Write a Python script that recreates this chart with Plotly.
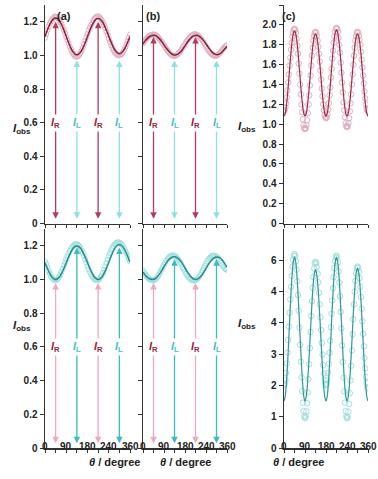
import plotly.graph_objects as go

# ---------------- data ----------------
theta_fit10 = list(range(0, 361, 10))
theta_obs5 = list(range(0, 361, 5))
theta_fit5 = list(range(0, 361, 5))
theta_obs3 = list(range(0, 361, 3))

# panel (a) top - red
a_top_fit = [1.113, 1.151, 1.184, 1.208, 1.221, 1.221, 1.208, 1.184, 1.151, 1.113,
             1.075, 1.042, 1.018, 1.005, 1.005, 1.018, 1.042, 1.075, 1.113,
             1.150, 1.182, 1.206, 1.219, 1.219, 1.206, 1.183, 1.150, 1.114,
             1.078, 1.047, 1.025, 1.012, 1.012, 1.025, 1.047, 1.078, 1.112]
a_top_obs = [1.105, 1.128, 1.150, 1.172, 1.190, 1.203, 1.215, 1.222, 1.230, 1.232,
             1.228, 1.222, 1.210, 1.198, 1.185, 1.168, 1.150, 1.132, 1.110, 1.090,
             1.072, 1.052, 1.035, 1.020, 1.008, 0.998, 0.993, 0.992, 0.996, 1.003,
             1.015, 1.030, 1.047, 1.068, 1.088, 1.108, 1.128, 1.148, 1.165, 1.182,
             1.196, 1.210, 1.220, 1.228, 1.232, 1.233, 1.228, 1.220, 1.210, 1.196,
             1.180, 1.162, 1.142, 1.122, 1.100, 1.080, 1.062, 1.045, 1.030, 1.018,
             1.010, 1.004, 1.001, 1.000, 1.003, 1.009, 1.018, 1.032, 1.048, 1.066,
             1.086, 1.106, 1.125]

# panel (a) bottom - teal
a_bot_fit = [1.100, 1.066, 1.036, 1.013, 1.002, 1.002, 1.013, 1.036, 1.066, 1.100,
             1.134, 1.164, 1.187, 1.198, 1.198, 1.187, 1.164, 1.134, 1.100,
             1.066, 1.036, 1.013, 1.002, 1.002, 1.013, 1.036, 1.066, 1.102,
             1.138, 1.170, 1.194, 1.206, 1.206, 1.194, 1.170, 1.138, 1.102]
a_bot_obs = [1.108, 1.092, 1.072, 1.052, 1.035, 1.020, 1.010, 1.002, 0.997, 0.996,
             0.999, 1.006, 1.016, 1.030, 1.046, 1.064, 1.083, 1.102, 1.120, 1.138,
             1.155, 1.170, 1.183, 1.194, 1.202, 1.208, 1.210, 1.210, 1.206, 1.198,
             1.188, 1.174, 1.158, 1.140, 1.120, 1.100, 1.080, 1.062, 1.045, 1.030,
             1.018, 1.008, 1.001, 0.997, 0.996, 0.998, 1.003, 1.012, 1.024, 1.040,
             1.058, 1.078, 1.098, 1.118, 1.138, 1.156, 1.173, 1.188, 1.200, 1.210,
             1.216, 1.220, 1.221, 1.220, 1.216, 1.208, 1.198, 1.185, 1.170, 1.155,
             1.140, 1.124, 1.108]

# panel (b) top - red
b_top_fit = [1.068, 1.088, 1.103, 1.114, 1.119, 1.120, 1.113, 1.100, 1.083, 1.063,
             1.043, 1.026, 1.012, 1.004, 1.003, 1.008, 1.020, 1.037, 1.057,
             1.078, 1.096, 1.110, 1.118, 1.120, 1.115, 1.104, 1.088, 1.068,
             1.048, 1.030, 1.015, 1.006, 1.004, 1.010, 1.022, 1.038, 1.055]
b_top_obs = [1.072, 1.082, 1.092, 1.100, 1.108, 1.114, 1.118, 1.122, 1.124, 1.125,
             1.124, 1.120, 1.115, 1.108, 1.100, 1.090, 1.080, 1.070, 1.060, 1.049,
             1.038, 1.028, 1.019, 1.011, 1.005, 1.000, 0.997, 0.996, 0.998, 1.002,
             1.008, 1.016, 1.025, 1.036, 1.047, 1.058, 1.069, 1.080, 1.090, 1.100,
             1.108, 1.115, 1.120, 1.124, 1.126, 1.126, 1.124, 1.120, 1.114, 1.106,
             1.097, 1.087, 1.076, 1.064, 1.052, 1.040, 1.030, 1.021, 1.013, 1.006,
             1.001, 0.998, 0.997, 0.998, 1.002, 1.008, 1.016, 1.025, 1.034, 1.042,
             1.050, 1.056, 1.060]

# panel (b) bottom - teal
b_bot_fit = [1.045, 1.025, 1.011, 1.003, 1.000, 1.003, 1.014, 1.032, 1.054, 1.077,
             1.099, 1.117, 1.129, 1.135, 1.134, 1.126, 1.111, 1.091, 1.068,
             1.045, 1.025, 1.010, 1.002, 1.001, 1.008, 1.022, 1.042, 1.065,
             1.088, 1.108, 1.123, 1.132, 1.134, 1.128, 1.115, 1.096, 1.073]
b_bot_obs = [1.052, 1.040, 1.030, 1.020, 1.012, 1.005, 1.000, 0.997, 0.995, 0.995,
             0.998, 1.003, 1.011, 1.021, 1.033, 1.046, 1.060, 1.074, 1.088, 1.101,
             1.113, 1.123, 1.131, 1.137, 1.141, 1.143, 1.143, 1.141, 1.137, 1.131,
             1.122, 1.112, 1.100, 1.088, 1.074, 1.060, 1.047, 1.035, 1.024, 1.014,
             1.006, 1.000, 0.996, 0.994, 0.994, 0.996, 1.000, 1.007, 1.016, 1.027,
             1.039, 1.053, 1.067, 1.081, 1.095, 1.108, 1.119, 1.128, 1.135, 1.140,
             1.142, 1.142, 1.140, 1.136, 1.130, 1.121, 1.110, 1.098, 1.086, 1.075,
             1.066, 1.060, 1.058]

# panel (c) top - red
c_top_fit = [1.080, 1.106, 1.181, 1.295, 1.435, 1.585, 1.725, 1.839, 1.914, 1.940,
             1.914, 1.839, 1.725, 1.585, 1.435, 1.295, 1.181, 1.106, 1.080,
             1.105, 1.177, 1.288, 1.423, 1.567, 1.703, 1.813, 1.885, 1.910,
             1.885, 1.813, 1.703, 1.567, 1.423, 1.288, 1.177, 1.105, 1.080,
             1.106, 1.182, 1.297, 1.439, 1.591, 1.733, 1.848, 1.924, 1.950,
             1.924, 1.848, 1.733, 1.591, 1.439, 1.297, 1.182, 1.106, 1.080,
             1.105, 1.177, 1.288, 1.423, 1.567, 1.703, 1.813, 1.885, 1.910,
             1.885, 1.813, 1.703, 1.567, 1.423, 1.288, 1.177, 1.105, 1.080]
c_top_obs = [1.13, 1.14, 1.17, 1.21, 1.27, 1.34, 1.42, 1.50, 1.59, 1.67, 1.75, 1.82, 1.88, 1.92, 1.95, 1.96,
             1.95, 1.92, 1.86, 1.79, 1.71, 1.61, 1.51, 1.40, 1.30, 1.20, 1.12, 1.05, 0.99, 0.96, 0.95,
             0.96, 0.99, 1.04, 1.11, 1.20, 1.29, 1.39, 1.49, 1.59, 1.69, 1.77, 1.84, 1.89, 1.92, 1.93,
             1.92, 1.89, 1.84, 1.78, 1.71, 1.63, 1.54, 1.45, 1.36, 1.28, 1.20, 1.14, 1.09, 1.07, 1.06,
             1.07, 1.10, 1.15, 1.21, 1.29, 1.37, 1.47, 1.56, 1.66, 1.74, 1.82, 1.88, 1.93, 1.96, 1.97,
             1.96, 1.93, 1.87, 1.80, 1.72, 1.62, 1.52, 1.42, 1.32, 1.22, 1.14, 1.07, 1.01, 0.98, 0.97,
             0.98, 1.01, 1.06, 1.13, 1.21, 1.30, 1.40, 1.50, 1.60, 1.69, 1.77, 1.84, 1.89, 1.92, 1.93,
             1.92, 1.89, 1.85, 1.80, 1.73, 1.65, 1.57, 1.49, 1.41, 1.33, 1.26, 1.20, 1.16, 1.14, 1.13]

# panel (c) bottom - teal
c_bot_fit = [1.50, 1.64, 2.04, 2.65, 3.40, 4.20, 4.95, 5.56, 5.96, 6.10,
             5.96, 5.56, 4.95, 4.20, 3.40, 2.65, 2.04, 1.64, 1.50,
             1.63, 1.99, 2.55, 3.23, 3.97, 4.65, 5.21, 5.57, 5.70,
             5.57, 5.21, 4.65, 3.97, 3.23, 2.55, 1.99, 1.63, 1.50,
             1.64, 2.04, 2.65, 3.40, 4.20, 4.95, 5.56, 5.96, 6.10,
             5.96, 5.56, 4.95, 4.20, 3.40, 2.65, 2.04, 1.64, 1.50,
             1.63, 2.00, 2.56, 3.25, 4.00, 4.69, 5.25, 5.62, 5.75,
             5.62, 5.25, 4.69, 4.00, 3.25, 2.56, 2.00, 1.63, 1.50]
c_bot_obs = [2.00, 2.05, 2.18, 2.40, 2.70, 3.05, 3.45, 3.88, 4.32, 4.75, 5.15, 5.50, 5.80, 6.02, 6.15, 6.20,
             6.14, 5.97, 5.70, 5.33, 4.89, 4.39, 3.85, 3.30, 2.76, 2.26, 1.82, 1.45, 1.18, 1.01, 0.95,
             1.01, 1.17, 1.43, 1.78, 2.20, 2.68, 3.19, 3.71, 4.22, 4.70, 5.12, 5.47, 5.74, 5.90, 5.95,
             5.91, 5.78, 5.57, 5.30, 4.96, 4.59, 4.18, 3.77, 3.36, 2.99, 2.65, 2.38, 2.17, 2.04, 2.00,
             2.05, 2.18, 2.40, 2.69, 3.04, 3.43, 3.86, 4.29, 4.72, 5.11, 5.46, 5.75, 5.97, 6.10, 6.15,
             6.09, 5.93, 5.65, 5.29, 4.85, 4.35, 3.82, 3.28, 2.75, 2.25, 1.81, 1.45, 1.18, 1.01, 0.95,
             1.00, 1.16, 1.41, 1.75, 2.16, 2.63, 3.12, 3.63, 4.12, 4.59, 5.00, 5.34, 5.59, 5.75, 5.80,
             5.76, 5.63, 5.43, 5.15, 4.83, 4.45, 4.05, 3.65, 3.25, 2.88, 2.55, 2.27, 2.07, 1.94, 1.90]

# arrows (I_R at 45/225, I_L at 135/315)
arrow_theta = [45, 135, 225, 315]
arrow_kind = ["R", "L", "R", "L"]
arrow_top_a_top = [1.20, 0.97, 1.20, 0.97]
arrow_top_b_top = [1.11, 0.97, 1.11, 0.97]
arrow_top_a_bot = [0.98, 1.19, 0.98, 1.19]
arrow_top_b_bot = [0.98, 1.12, 0.98, 1.12]
arrow_bottom = 0.02
label_y = 0.6

x_tickvals = [0, 45, 90, 135, 180, 225, 270, 315, 360]
x_label_vals = [0, 90, 180, 270, 360]
x_label_text = ["0", "90", "180", "240", "360"]
y_tickvals_small = [0, 0.2, 0.4, 0.6, 0.8, 1.0, 1.2]
y_ticktext_small = ["0", "0.2", "0.4", "0.6", "0.8", "1.0", "1.2"]
y_tickvals_ctop = [0, 0.2, 0.4, 0.6, 0.8, 1.0, 1.2, 1.4, 1.6, 1.8, 2.0, 2.2]
y_ticktext_ctop = ["0", "0.2", "0.4", "0.6", "0.8", "1.0", "1.2", "1.4", "1.6", "1.8", "2.0", "2.2"]
y_tickvals_cbot = [0, 1, 2, 3, 4, 5, 6]
y_ticktext_cbot = ["0", "1", "2", "3", "4", "4", "6"]

# ---------------- styles ----------------
W, H = 378, 479
FONT = "Liberation Sans"
RED_LINE = "#8c1c3c"
RED_OBS = "#e0b0be"
TEAL_LINE = "#1f8f8f"
TEAL_OBS = "#a2dfdf"
AX = "#333333"


def px2x(p):
    return p / W


def px2y(p):
    return 1 - p / H


def bold(lst):
    return [f"<b>{t}</b>" if t else "" for t in lst]


xdom = {"a": [px2x(45), px2x(130)], "b": [px2x(143), px2x(227)], "c": [px2x(284), px2x(368)]}
ydom_top = [px2y(223.5), px2y(5)]
ydom_bot = [px2y(448), px2y(229)]

fig = go.Figure()

panels = [
    (1, "a", "top", theta_obs5, a_top_obs, theta_fit10, a_top_fit, RED_OBS, RED_LINE),
    (2, "b", "top", theta_obs5, b_top_obs, theta_fit10, b_top_fit, RED_OBS, RED_LINE),
    (3, "c", "top", theta_obs3, c_top_obs, theta_fit5, c_top_fit, RED_OBS, "#a4284c"),
    (4, "a", "bot", theta_obs5, a_bot_obs, theta_fit10, a_bot_fit, TEAL_OBS, TEAL_LINE),
    (5, "b", "bot", theta_obs5, b_bot_obs, theta_fit10, b_bot_fit, TEAL_OBS, TEAL_LINE),
    (6, "c", "bot", theta_obs3, c_bot_obs, theta_fit5, c_bot_fit, TEAL_OBS, "#2a9a9a"),
]

layout = dict(
    width=W, height=H, autosize=False, margin=dict(l=0, r=0, t=0, b=0, pad=0),
    paper_bgcolor="white", plot_bgcolor="rgba(0,0,0,0)",
    showlegend=False, font=dict(family=FONT, size=10, color="#222"),
)

annotations = []

for idx, col, row, ox, oy, fx, fy, cobs, cline in panels:
    xa = "x" if idx == 1 else f"x{idx}"
    ya = "y" if idx == 1 else f"y{idx}"
    csize = 5 if col != "c" else 5.5
    fig.add_trace(go.Scatter(x=ox, y=oy, mode="markers", xaxis=xa, yaxis=ya,
                             marker=dict(symbol="circle-open", size=csize, color=cobs,
                                         line=dict(width=1, color=cobs)),
                             hoverinfo="skip"))
    fig.add_trace(go.Scatter(x=fx, y=fy, mode="lines", xaxis=xa, yaxis=ya,
                             line=dict(color=cline, width=1.5 if col != "c" else 1.2,
                                       shape="spline", smoothing=1.0),
                             hoverinfo="skip"))
    key = "" if idx == 1 else str(idx)
    xaxis = dict(domain=xdom[col], anchor=ya, range=[0, 360], showline=True, linecolor=AX, linewidth=1.5,
                 ticks="outside", ticklen=3, tickwidth=1, tickcolor=AX, showgrid=False, zeroline=False,
                 tickvals=x_tickvals, showticklabels=False, automargin=False)
    if col == "c":
        if row == "top":
            yr, tv, tt = [0, 2.2], y_tickvals_ctop, y_ticktext_ctop
        else:
            yr, tv, tt = [0, 7], y_tickvals_cbot, y_ticktext_cbot
    else:
        yr, tv, tt = [0, 1.3], y_tickvals_small, y_ticktext_small
    yaxis = dict(domain=ydom_top if row == "top" else ydom_bot, anchor=xa, range=yr,
                 showline=True, linecolor=AX, linewidth=1.5,
                 ticks="outside", ticklen=4, tickwidth=1, tickcolor=AX, showgrid=False, zeroline=False,
                 tickvals=tv, ticktext=bold(tt), showticklabels=(col != "b"), automargin=False,
                 tickfont=dict(family=FONT, size=10, color="#222"))
    layout["xaxis" + key] = xaxis
    layout["yaxis" + key] = yaxis
    # x tick labels on bottom row, placed just under the short ticks
    if row == "bot":
        for v, t in zip(x_label_vals, x_label_text):
            annotations.append(dict(x=v, y=px2y(453.5), xref=xa, yref="paper", showarrow=False,
                                    text=f"<b>{t}</b>", font=dict(family=FONT, size=10, color="#222")))

# arrows and labels for panels a and b
arrow_sets = [
    ("x", "y", arrow_top_a_top, {"R": "#b8385e", "L": "#8fe0e0"}),
    ("x2", "y2", arrow_top_b_top, {"R": "#b8385e", "L": "#8fe0e0"}),
    ("x4", "y4", arrow_top_a_bot, {"R": "#f0a8bc", "L": "#3cbcbc"}),
    ("x5", "y5", arrow_top_b_bot, {"R": "#f0a8bc", "L": "#3cbcbc"}),
]
label_color = {"R": "#a01c42", "L": "#3cc4c4"}
for xr, yr_, tops, cols in arrow_sets:
    for th, kind, top in zip(arrow_theta, arrow_kind, tops):
        annotations.append(dict(x=th, y=top, ax=th, ay=arrow_bottom, xref=xr, yref=yr_, axref=xr, ayref=yr_,
                                text="", showarrow=True, arrowhead=2, arrowside="end+start", arrowsize=1,
                                arrowwidth=1.3, arrowcolor=cols[kind], standoff=0, startstandoff=0))
        annotations.append(dict(x=th, y=label_y, xref=xr, yref=yr_, showarrow=False,
                                text=f"<b><i>I</i><sub>{kind}</sub></b>", bgcolor="white", borderpad=1,
                                font=dict(family=FONT, size=11, color=label_color[kind])))

# panel letters
for txt, xp in [("(a)", 55), ("(b)", 153), ("(c)", 298)]:
    annotations.append(dict(x=px2x(xp), y=px2y(8), xref="paper", yref="paper", showarrow=False,
                            text=f"<b>{txt}</b>", font=dict(family=FONT, size=11, color="#222")))

# y titles
for xp, yp in [(10.5, 120), (10.5, 335), (247, 118), (247, 333)]:
    annotations.append(dict(x=px2x(xp), y=px2y(yp), xref="paper", yref="paper", showarrow=False,
                            text="<b><i>I</i><sub>obs</sub></b>", font=dict(family=FONT, size=11.5, color="#222")))

# x titles
for col in ["a", "b", "c"]:
    xc = (xdom[col][0] + xdom[col][1]) / 2
    annotations.append(dict(x=xc, y=px2y(469.5), xref="paper", yref="paper", showarrow=False,
                            text="<b><i>θ</i> / degree</b>", font=dict(family=FONT, size=11, color="#222")))

layout["annotations"] = annotations
fig.update_layout(**layout)
fig.write_html("out.html", config={"displayModeBar": False, "staticPlot": True},
               post_script="document.body.style.margin='0';document.body.style.padding='0';"
                           "document.body.style.overflow='hidden';")
